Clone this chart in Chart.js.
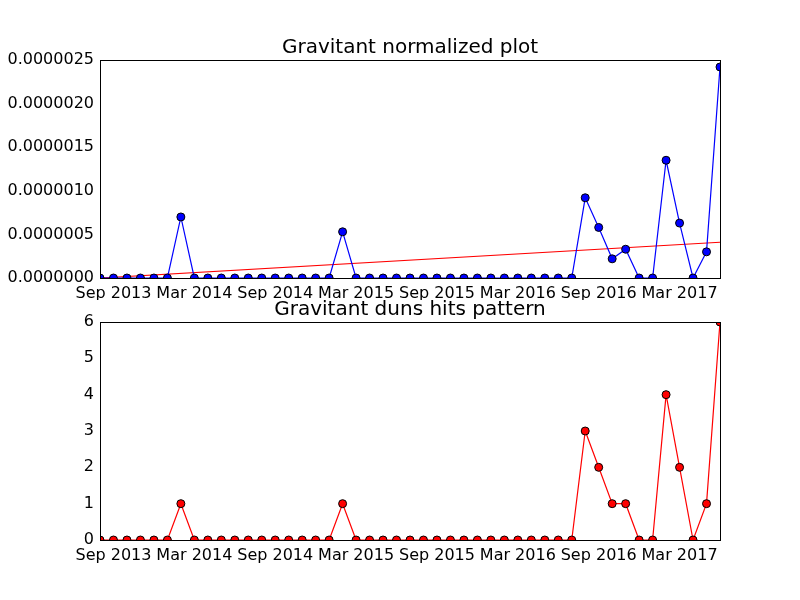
<!DOCTYPE html>
<html lang="en">
<head>
<meta charset="UTF-8">
<title>Gravitant</title>
<script src="https://cdn.jsdelivr.net/npm/chart.js"></script>
<style>
  body { margin: 0; background: #fff; }
  .box { position: absolute; left: 0; width: 800px; height: 300px; }
</style>
</head>
<body>
<div class="box" style="top:0"><canvas id="normChart"></canvas></div>
<div class="box" style="top:300px"><canvas id="hitsChart"></canvas></div>
<script>
// months since Aug 2013 (0..46)
const months = Array.from({length: 47}, (_, i) => i);
const hits = [0,0,0,0,0,0,1,0,0,0,0,0,0,0,0,0,0,0,1,0,0,0,0,0,0,0,0,0,0,0,0,0,0,0,0,0,3,2,1,1,0,0,4,2,0,1,6];
const normalized = [0,0,0,0,0,0,7.0e-7,0,0,0,0,0,0,0,0,0,0,0,5.3e-7,0,0,0,0,0,0,0,0,0,0,0,0,0,0,0,0,0,9.2e-7,5.8e-7,2.2e-7,3.3e-7,0,0,1.35e-6,6.3e-7,0,3.0e-7,2.42e-6];
const trendStart = 0, trendEnd = 4.1e-7;
const tickPos = [1, 7, 13, 19, 25, 31, 37, 43];
const tickLabels = ['Sep 2013','Mar 2014','Sep 2014','Mar 2015','Sep 2015','Mar 2016','Sep 2016','Mar 2017'];

const font = { family: 'DejaVu Sans', size: 16 };

// frame + title drawn around the plot area, matplotlib style
const framePlugin = {
  id: 'frame',
  afterDraw(chart, args, opts) {
    const a = chart.chartArea, ctx = chart.ctx;
    ctx.save();
    ctx.strokeStyle = '#000';
    ctx.lineWidth = 1;
    ctx.strokeRect(a.left + 0.5, a.top + 0.5, a.right - a.left, a.bottom - a.top);
    ctx.fillStyle = '#000';
    ctx.font = '20px "DejaVu Sans"';
    ctx.textAlign = 'center';
    ctx.textBaseline = 'bottom';
    ctx.fillText(opts.text, (a.left + a.right) / 2, a.top - 2);
    ctx.restore();
  }
};

function makeOptions(title, yMax, yStep, yFmt, padTop, xHeight) {
  return {
    responsive: false,
    animation: false,
    layout: { padding: { top: padTop, right: 80, left: 0, bottom: 0 } },
    plugins: { legend: { display: false }, tooltip: { enabled: false }, frame: { text: title } },
    scales: {
      x: {
        type: 'linear', min: 0, max: 46,
        grid: { display: false, drawTicks: false },
        border: { display: false },
        afterBuildTicks: s => { s.ticks = tickPos.map(v => ({ value: v })); },
        afterFit: s => { s.height = xHeight; },
        ticks: {
          color: '#000', font: font, padding: 6, maxRotation: 0, autoSkip: false,
          callback: v => tickLabels[tickPos.indexOf(v)]
        }
      },
      y: {
        min: 0, max: yMax,
        grid: { display: false, drawTicks: false },
        border: { display: false },
        afterFit: s => { s.width = 100; },
        ticks: { color: '#000', font: font, stepSize: yStep, padding: 6, callback: yFmt }
      }
    }
  };
}

window.onload = function() {
  const c1 = document.getElementById('normChart');
  c1.width = 800; c1.height = 300;
  new Chart(c1, {
    type: 'line',
    data: {
      datasets: [{
        data: months.map((m, i) => ({ x: m, y: normalized[i] })),
        borderColor: '#0000ff', borderWidth: 1.2,
        pointBackgroundColor: '#0000ff', pointBorderColor: '#000', pointBorderWidth: 1,
        pointRadius: 4, tension: 0
      }, {
        data: [{ x: 0, y: trendStart }, { x: 46, y: trendEnd }],
        borderColor: '#ff0000', borderWidth: 1.2, pointRadius: 0
      }]
    },
    options: makeOptions('Gravitant normalized plot', 2.5e-6, 5e-7, v => v.toFixed(7), 60, 22),
    plugins: [framePlugin]
  });

  const c2 = document.getElementById('hitsChart');
  c2.width = 800; c2.height = 300;
  new Chart(c2, {
    type: 'line',
    data: {
      datasets: [{
        data: months.map((m, i) => ({ x: m, y: hits[i] })),
        borderColor: '#ff0000', borderWidth: 1.2,
        pointBackgroundColor: '#ff0000', pointBorderColor: '#000', pointBorderWidth: 1,
        pointRadius: 4, tension: 0
      }]
    },
    options: makeOptions('Gravitant duns hits pattern', 6, 1, v => v, 22, 60),
    plugins: [framePlugin]
  });
};
</script>
</body>
</html>
